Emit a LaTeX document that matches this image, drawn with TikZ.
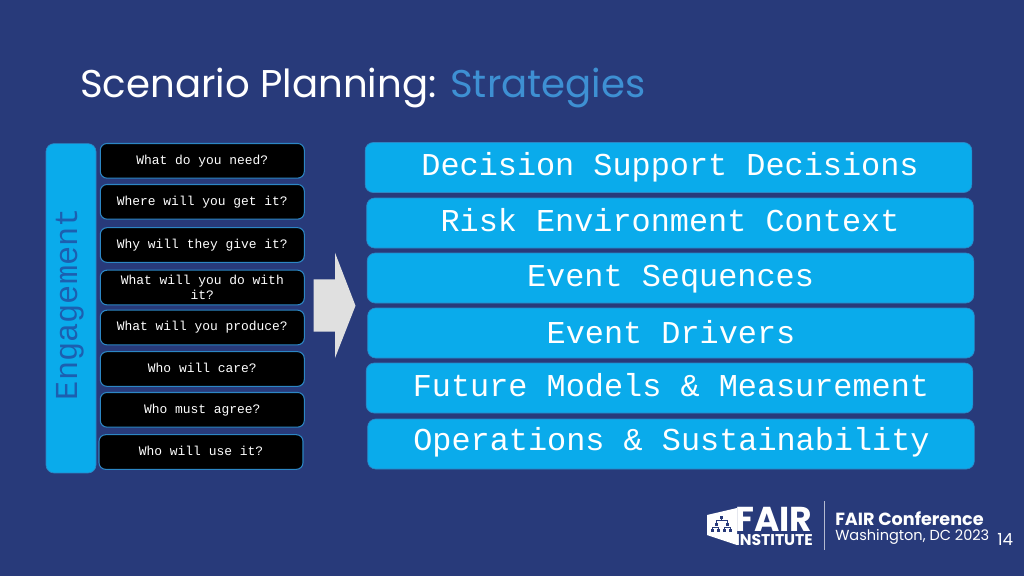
\documentclass[tikz,border=0pt]{standalone}
\usepackage{fontspec}
\setmainfont{Lato}
\newfontfamily\monof{Liberation Mono}
\newfontfamily\titlef{Poppins}
\newfontfamily\logof{Poppins}
\definecolor{bgblue}{HTML}{283A7A}
\definecolor{cyanbox}{HTML}{0AABEB}
\definecolor{edgeblue}{HTML}{2C86C4}
\definecolor{stratblue}{HTML}{3E90D3}
\definecolor{engblue}{HTML}{1C5FB0}
\definecolor{arrowgrey}{HTML}{E0E0E0}
\tikzset{
  smallq/.style={draw=edgeblue,line width=0.8pt,fill=black,rounded corners=5pt,text=white,inner sep=0pt,
    minimum width=153pt,minimum height=26pt,align=center,font=\monof\fontsize{9.7}{11.5}\selectfont},
  bigbox/.style={draw=edgeblue,line width=0.5pt,fill=cyanbox,rounded corners=6pt,inner sep=0pt,minimum height=37.5pt,minimum width=455pt},
  bigtext/.style={anchor=base,text=white,inner sep=0pt,font=\monof\fontsize{23.9}{26}\selectfont},
}
\begin{document}
\begin{tikzpicture}[x=0.75pt,y=-0.75pt]
\useasboundingbox (0,0) rectangle (1024,576);
\fill[bgblue] (0,0) rectangle (1024,576);
\node[anchor=base west,inner sep=0pt,font=\titlef\fontsize{29}{34}\selectfont,text=white] (title) at (80,97) {Scenario Planning: \textcolor{stratblue}{Strategies}};
\node[draw=edgeblue,line width=0.5pt,fill=cyanbox,rounded corners=6pt,inner sep=0pt,minimum width=37.5pt,minimum height=247pt] (bar) at (71,308.3) {};
\node[rotate=90,anchor=base,text=engblue,inner sep=0pt,font=\monof\fontsize{24}{26}\selectfont] (eng) at (77,304) {Engagement};
\node[smallq,text height=7pt,text depth=2pt] (q1) at (202.3,160.8) {What do you need?};
\node[smallq,text height=7pt,text depth=2pt] (q2) at (202.3,201.8) {Where will you get it?};
\node[smallq,text height=7pt,text depth=2pt] (q3) at (202.3,245) {Why will they give it?};
\node[smallq] (q4) at (202.3,287.5) {What will you do with\\it?};
\node[smallq,text height=7pt,text depth=2pt] (q5) at (202.3,327.5) {What will you produce?};
\node[smallq,text height=7pt,text depth=2pt] (q6) at (202.3,369) {Who will care?};
\node[smallq,text height=7pt,text depth=2pt] (q7) at (202.3,409.8) {Who must agree?};
\node[smallq,text height=7pt,text depth=2pt] (q8) at (201,452) {Who will use it?};
\fill[arrowgrey] (313.7,279.3) -- (335,279.3) -- (335,252.7) -- (355.5,305.7) -- (335,358) -- (335,331.7) -- (313.7,331.7) -- cycle;
\node[bigbox] (b1) at (668.5,167.5) {};
\node[bigbox] (b2) at (670,223) {};
\node[bigbox] (b3) at (670.5,278) {};
\node[bigbox] (b4) at (671,333) {};
\node[bigbox] (b5) at (669.5,388) {};
\node[bigbox] (b6) at (671,444) {};
\node[bigtext] (t1) at (670,175) {Decision Support Decisions};
\node[bigtext] (t2) at (670,231) {Risk Environment Context};
\node[bigtext] (t3) at (670.5,286) {Event Sequences};
\node[bigtext] (t4) at (671,343) {Event Drivers};
\node[bigtext] (t5) at (671,396) {Future Models \& Measurement};
\node[bigtext] (t6) at (671.5,450) {Operations \& Sustainability};
% logo
\fill[white] (707,515) -- (737,508) -- (737,545) -- (707,535) -- cycle;
\begin{scope}[bgblue,line width=0.6pt]
\fill (720,516) rectangle (723,519);
\fill (714.5,522.5) rectangle (717.5,525.5);
\fill (725.5,522.5) rectangle (728.5,525.5);
\fill (711,529) rectangle (714,532);
\fill (717,529) rectangle (720,532);
\fill (723,529) rectangle (726,532);
\fill (729,529) rectangle (732,532);
\draw (721.5,519) -- (721.5,520.8) (716,522.5) -- (716,520.8) -- (727,520.8) -- (727,522.5);
\draw (712.5,529) -- (712.5,527.3) -- (718.5,527.3) -- (718.5,529) (724.5,529) -- (724.5,527.3) -- (730.5,527.3) -- (730.5,529);
\end{scope}
\node[anchor=south west,inner sep=0pt,align=left,text=white,font=\logof\bfseries\fontsize{11}{10.5}\selectfont] (fair) at (735,545.5) {{\fontsize{25.9}{10.5}\selectfont FAIR}\\{\fontsize{11.7}{10.5}\selectfont INSTITUTE}};
\draw[white!65!bgblue,line width=0.7pt] (824.5,501) -- (824.5,550);
\node[anchor=base west,inner sep=0pt,text=white,font=\logof\bfseries\fontsize{13.2}{14}\selectfont] (conf) at (835,525.5) {FAIR Conference};
\node[anchor=base west,inner sep=0pt,text=white,font=\logof\fontsize{10.9}{12}\selectfont] (wash) at (835,540.5) {Washington, DC 2023};
\node[anchor=base west,inner sep=0pt,text=white,font=\logof\fontsize{12.5}{13}\selectfont] (page) at (997,545.5) {14};
\end{tikzpicture}
\end{document}
